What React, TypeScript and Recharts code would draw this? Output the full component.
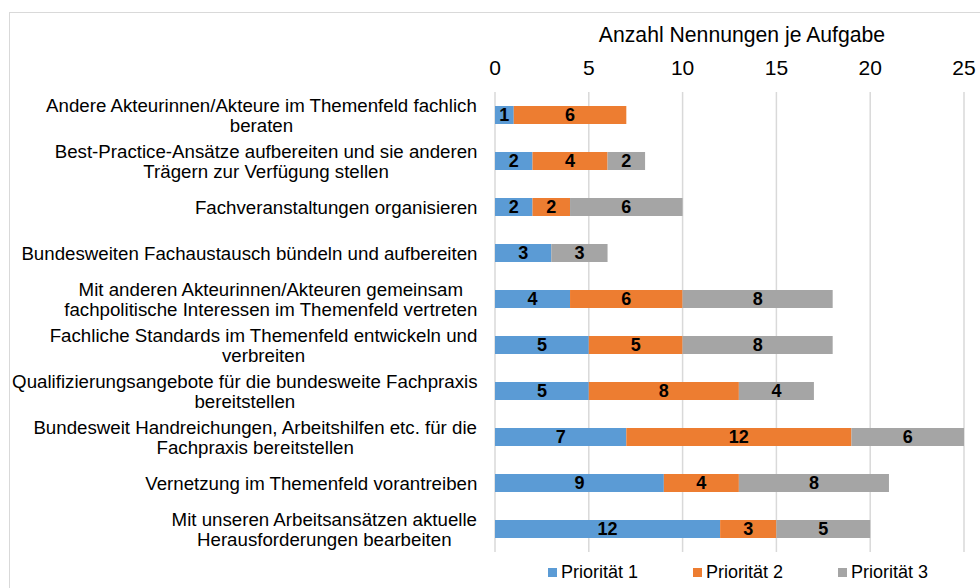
import React from "react";
import { BarChart, Bar, XAxis, YAxis, CartesianGrid, LabelList } from "recharts";

const categories = [
  "Andere Akteurinnen/Akteure im Themenfeld fachlich\nberaten",
  "Best-Practice-Ansätze aufbereiten und sie anderen\nTrägern zur Verfügung stellen",
  "Fachveranstaltungen organisieren",
  "Bundesweiten Fachaustausch bündeln und aufbereiten",
  "Mit anderen Akteurinnen/Akteuren gemeinsam\nfachpolitische Interessen im Themenfeld vertreten",
  "Fachliche Standards im Themenfeld entwickeln und\nverbreiten",
  "Qualifizierungsangebote für die bundesweite Fachpraxis\nbereitstellen",
  "Bundesweit Handreichungen, Arbeitshilfen etc. für die\nFachpraxis bereitstellen",
  "Vernetzung im Themenfeld vorantreiben",
  "Mit unseren Arbeitsansätzen aktuelle\nHerausforderungen bearbeiten",
];
const prio1 = [1, 2, 2, 3, 4, 5, 5, 7, 9, 12];
const prio2 = [6, 4, 2, null, 6, 5, 8, 12, 4, 3];
const prio3 = [null, 2, 6, 3, 8, 8, 4, 6, 8, 5];
const xTicks = [0, 5, 10, 15, 20, 25];

const seriesNames = ["Priorität 1", "Priorität 2", "Priorität 3"];
const COLORS = ["#5b9bd5", "#ed7d31", "#a5a5a5"];

const FONT = "'Liberation Sans', Arial, sans-serif";

const data = categories.map((name, i) => ({
  name,
  p1: prio1[i],
  p2: prio2[i],
  p3: prio3[i],
}));

let ctx: CanvasRenderingContext2D | null = null;
function measure(text: string, size: number) {
  if (!ctx) ctx = document.createElement("canvas").getContext("2d");
  if (!ctx) return text.length * size * 0.5;
  ctx.font = `${size}px ${FONT}`;
  return ctx.measureText(text).width;
}

function CategoryTick(props: any) {
  const { y, payload } = props;
  const lines: string[] = String(payload.value).split("\n");
  const size = 18.7;
  const lh = 20;
  const maxW = Math.max(...lines.map((l) => measure(l, size)));
  const cx = 477.5 - maxW / 2;
  return (
    <g>
      {lines.map((l, i) => (
        <text
          key={i}
          x={cx}
          y={y + (i - (lines.length - 1) / 2) * lh + size * 0.36}
          textAnchor="middle"
          fontSize={size}
          fontFamily={FONT}
          fill="#000"
        >
          {l}
        </text>
      ))}
    </g>
  );
}

function ValueTick(props: any) {
  const { x, payload } = props;
  return (
    <text x={x} y={75} textAnchor="middle" fontSize={21} fontFamily={FONT} fill="#000">
      {payload.value}
    </text>
  );
}

export default function App() {
  return (
    <div style={{ position: "absolute", left: 0, top: 0, width: 980, height: 588, background: "#fff", overflow: "hidden" }}>
      <div
        style={{
          position: "absolute",
          left: 9,
          top: 12,
          width: 1000,
          height: 600,
          borderLeft: "1px solid #d9d9d9",
          borderTop: "1px solid #d9d9d9",
        }}
      />
      <div
        style={{
          position: "absolute",
          left: 742,
          top: 22,
          transform: "translateX(-50%)",
          whiteSpace: "nowrap",
          fontFamily: FONT,
          fontSize: 21.2,
          lineHeight: "26px",
          color: "#000",
        }}
      >
        Anzahl Nennungen je Aufgabe
      </div>
      <BarChart
        width={980}
        height={588}
        data={data}
        layout="vertical"
        margin={{ top: 62, right: 16, bottom: 36, left: 0 }}
        barSize={18}
        style={{ position: "absolute", left: 0, top: 0 }}
      >
        <CartesianGrid horizontal={false} stroke="#d9d9d9" strokeWidth={1.5} />
        <XAxis
          type="number"
          orientation="top"
          domain={[0, 25]}
          ticks={xTicks}
          height={30}
          axisLine={false}
          tickLine={false}
          tick={<ValueTick />}
        />
        <YAxis
          type="category"
          dataKey="name"
          width={495}
          axisLine={false}
          tickLine={false}
          tick={<CategoryTick />}
          interval={0}
        />
        {["p1", "p2", "p3"].map((k, i) => (
          <Bar key={k} dataKey={k} name={seriesNames[i]} stackId="a" fill={COLORS[i]} isAnimationActive={false}>
            <LabelList
              dataKey={k}
              position="center"
              fill="#000"
              fontSize={18}
              fontWeight="bold"
              fontFamily={FONT}
            />
          </Bar>
        ))}
      </BarChart>
      <div
        style={{
          position: "absolute",
          left: 548,
          top: 561,
          display: "flex",
          gap: 55,
          fontFamily: FONT,
          fontSize: 18,
          lineHeight: "22px",
          color: "#000",
        }}
      >
        {seriesNames.map((n, i) => (
          <div key={n} style={{ display: "flex", alignItems: "center", whiteSpace: "nowrap" }}>
            <span style={{ display: "inline-block", width: 9, height: 9, background: COLORS[i], marginRight: 4 }} />
            {n}
          </div>
        ))}
      </div>
    </div>
  );
}
